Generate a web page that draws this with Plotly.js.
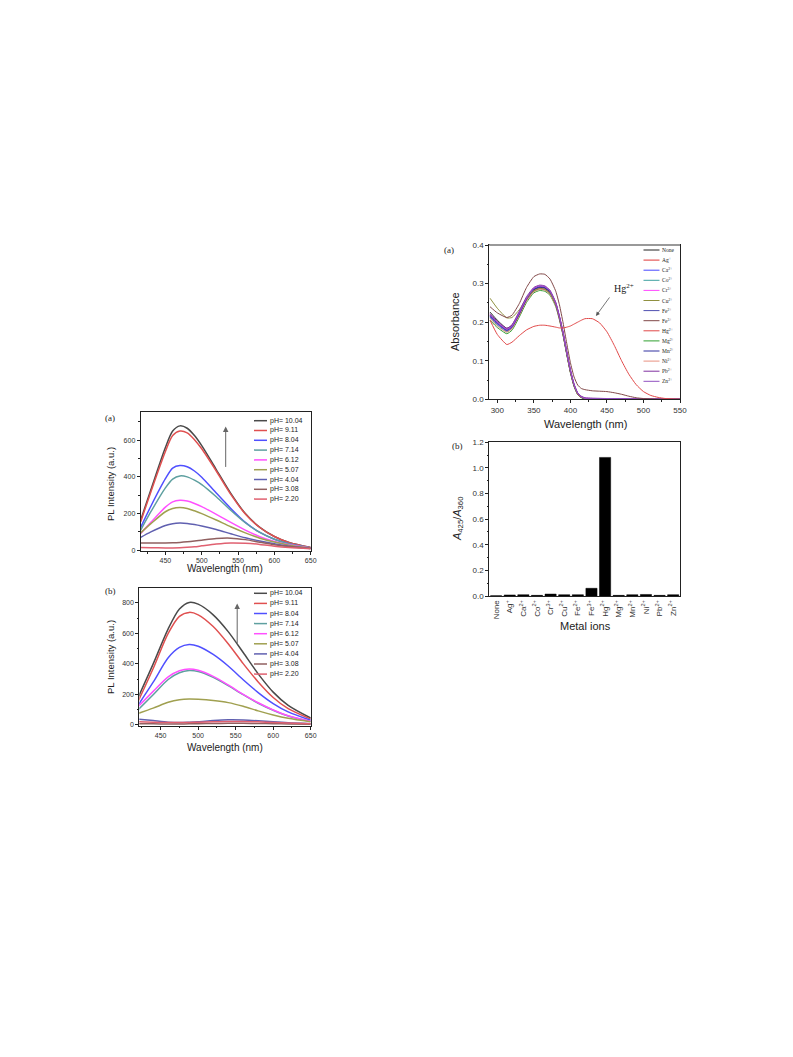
<!DOCTYPE html>
<html>
<head>
<meta charset="utf-8">
<script src="https://cdn.plot.ly/plotly-3.0.1.min.js"></script>
<style>html,body{margin:0;padding:0;background:#fff;}#chart{width:793px;height:1057px;}</style>
</head>
<body>
<div id="chart"></div>
<script>
// ---------- DATA ----------
// PL spectra (a)
const plWlA = [416,430,450,460,470,480,490,500,520,540,560,580,600,620,650];
const plA_1004 = [165,330,560,650,678,665,625,570,440,310,200,125,75,42,15];
const plA_911  = [155,318,538,625,650,640,603,553,432,305,198,124,75,42,15];
const plA_804  = [125,240,390,448,462,455,432,398,312,228,152,97,60,35,12];
const plA_714  = [110,210,340,388,405,400,382,358,292,218,150,97,60,35,12];
const plA_612  = [92,152,235,264,272,268,255,238,196,152,110,74,48,30,12];
const plA_507  = [95,145,210,228,233,228,215,200,165,128,95,66,45,28,12];
const plA_404  = [70,100,135,145,148,146,140,132,113,90,68,50,35,22,10];
const plA_308  = [40,40,40,41,43,46,50,55,64,66,58,44,30,20,10];
const plA_220  = [15,14,13,13,14,16,19,24,34,40,38,32,22,15,8];
// PL spectra (b)
const plWlB = [420,440,460,475,488,500,520,540,560,580,600,620,650];
const plB_1004 = [180,400,630,760,803,792,722,612,475,335,215,128,45];
const plB_911  = [155,370,600,712,738,722,645,532,402,282,180,106,38];
const plB_804  = [130,280,440,508,527,516,462,386,296,212,140,85,30];
const plB_714  = [100,198,298,342,356,350,312,258,198,142,96,58,22];
const plB_612  = [120,220,315,355,367,358,318,262,200,145,98,60,24];
const plB_507  = [75,110,148,165,170,168,160,146,122,92,65,43,20];
const plB_404  = [38,28,18,15,17,20,28,33,32,27,20,14,8];
const plB_308  = [8,7,6,6,7,8,9,10,10,9,8,6,5];
const plB_220  = [20,17,15,15,16,18,21,23,22,20,16,12,8];
const pHLabels = ["pH= 10.04","pH= 9.11","pH= 8.04","pH= 7.14","pH= 6.12","pH= 5.07","pH= 4.04","pH= 3.08","pH= 2.20"];

// Absorbance spectra
const absWlS = [290,300,313,320,330,340,350,358,365,372,380,385,390,395,400,405,410,415,420,430,450,500,550];
const absWlL = [290,300,313,320,330,340,350,358,365,372,380,385,390,395,400,405,410,415,420,430,440,450,460,470,480,490,500,510,520,530,550];
const absNone = [0.226,0.205,0.184,0.192,0.225,0.262,0.285,0.291,0.289,0.278,0.247,0.212,0.170,0.120,0.073,0.036,0.014,0.005,0.002,0.001,0,0,0];
const absAg   = [0.218,0.197,0.178,0.186,0.220,0.258,0.282,0.288,0.286,0.276,0.245,0.210,0.168,0.118,0.071,0.035,0.013,0.005,0.002,0.001,0,0,0];
const absCa   = [0.215,0.196,0.179,0.188,0.223,0.261,0.286,0.292,0.290,0.279,0.248,0.213,0.171,0.121,0.074,0.037,0.015,0.006,0.002,0.001,0,0,0];
const absCo   = [0.212,0.192,0.175,0.184,0.218,0.256,0.280,0.286,0.284,0.273,0.243,0.208,0.166,0.117,0.070,0.034,0.013,0.005,0.002,0.001,0,0,0];
const absCr   = [0.220,0.200,0.182,0.190,0.225,0.263,0.288,0.294,0.292,0.281,0.250,0.215,0.173,0.123,0.076,0.039,0.016,0.007,0.003,0.002,0.001,0,0];
const absCu   = [0.262,0.236,0.211,0.212,0.232,0.262,0.281,0.287,0.285,0.275,0.245,0.210,0.168,0.118,0.071,0.035,0.013,0.005,0.002,0.001,0,0,0];
const absFe2  = [0.214,0.195,0.178,0.187,0.221,0.259,0.284,0.290,0.288,0.277,0.246,0.211,0.169,0.119,0.072,0.036,0.014,0.005,0.002,0.001,0,0,0];
const absFe3  = [0.240,0.224,0.212,0.218,0.248,0.290,0.318,0.325,0.324,0.312,0.280,0.245,0.198,0.145,0.095,0.058,0.037,0.028,0.025,0.022,0.021,0.020,0.017,0.013,0.008,0.004,0.002,0.001,0,0,0];
const absHg   = [0.205,0.168,0.142,0.148,0.165,0.180,0.189,0.192,0.192,0.190,0.187,0.185,0.185,0.187,0.190,0.195,0.200,0.205,0.209,0.209,0.198,0.175,0.140,0.100,0.065,0.038,0.020,0.010,0.005,0.002,0];
const absMg   = [0.205,0.186,0.170,0.179,0.213,0.251,0.276,0.282,0.280,0.270,0.240,0.206,0.165,0.116,0.069,0.033,0.012,0.004,0.001,0,0,0,0];
const absMn   = [0.217,0.198,0.180,0.189,0.223,0.261,0.286,0.292,0.290,0.279,0.248,0.213,0.171,0.121,0.074,0.037,0.015,0.006,0.002,0.001,0,0,0];
const absNi   = [0.210,0.190,0.174,0.183,0.217,0.255,0.279,0.285,0.283,0.272,0.242,0.207,0.166,0.117,0.070,0.034,0.013,0.005,0.002,0.001,0,0,0];
const absPb   = [0.222,0.202,0.184,0.193,0.228,0.266,0.290,0.296,0.294,0.283,0.251,0.216,0.174,0.124,0.077,0.040,0.017,0.008,0.004,0.003,0.002,0.001,0];
const absZn   = [0.219,0.199,0.181,0.190,0.225,0.263,0.288,0.294,0.292,0.281,0.250,0.215,0.173,0.123,0.076,0.039,0.016,0.007,0.003,0.002,0.002,0.001,0];

// Ratio bar chart
const ionLabels = ["None","Ag<sup>+</sup>","Ca<sup>2+</sup>","Co<sup>2+</sup>","Cr<sup>3+</sup>","Cu<sup>2+</sup>","Fe<sup>2+</sup>","Fe<sup>3+</sup>","Hg<sup>2+</sup>","Mg<sup>2+</sup>","Mn<sup>2+</sup>","Ni<sup>2+</sup>","Pb<sup>2+</sup>","Zn<sup>2+</sup>"];
const ratioValues = [0.002,0.008,0.010,0.005,0.015,0.010,0.010,0.060,1.082,0.005,0.010,0.012,0.005,0.010];

// ---------- STYLE ----------
const W = 793, H = 1057;
const px = x => x / W, py = y => 1 - y / H;
const SANS = "Liberation Sans, Arial, sans-serif";
const SERIF = "Liberation Serif, Times New Roman, serif";
const plColors = ["#4a4a4a","#e05050","#5050ff","#5fa0a0","#ff50ff","#a0a050","#6060b0","#906060","#e06070"];
const ionColors = ["#222222","#e03838","#4848ff","#3fa0a0","#ff48ff","#909040","#5050b0","#804848","#e04848","#30a030","#3030a0","#e89080","#8030a0","#9050c0"];

const plASeries = [plA_1004,plA_911,plA_804,plA_714,plA_612,plA_507,plA_404,plA_308,plA_220];
const plBSeries = [plB_1004,plB_911,plB_804,plB_714,plB_612,plB_507,plB_404,plB_308,plB_220];
const absSeries = [
  [absWlS,absNone],[absWlS,absAg],[absWlS,absCa],[absWlS,absCo],[absWlS,absCr],[absWlS,absCu],[absWlS,absFe2],
  [absWlL,absFe3],[absWlL,absHg],[absWlS,absMg],[absWlS,absMn],[absWlS,absNi],[absWlS,absPb],[absWlS,absZn]
];

const traces = [];
plASeries.forEach((y,i)=>traces.push({x:plWlA,y:y,xaxis:'x',yaxis:'y',type:'scatter',mode:'lines',
  line:{color:plColors[i],width:1.5,shape:'spline',smoothing:0.8},showlegend:false,hoverinfo:'skip'}));
plBSeries.forEach((y,i)=>traces.push({x:plWlB,y:y,xaxis:'x2',yaxis:'y2',type:'scatter',mode:'lines',
  line:{color:plColors[i],width:1.5,shape:'spline',smoothing:0.8},showlegend:false,hoverinfo:'skip'}));
// draw order: cluster first, Fe3 and Hg later
const absOrder = [9,3,11,1,6,0,2,10,5,4,12,13,7,8];
absOrder.forEach(i=>traces.push({x:absSeries[i][0],y:absSeries[i][1],xaxis:'x3',yaxis:'y3',type:'scatter',mode:'lines',
  line:{color:ionColors[i],width:1,shape:'spline',smoothing:0.5},showlegend:false,hoverinfo:'skip'}));
traces.push({x:ionLabels,y:ratioValues,xaxis:'x4',yaxis:'y4',type:'bar',width:0.82,
  marker:{color:'#000',line:{color:'#000',width:0.5}},showlegend:false,hoverinfo:'skip'});

function ax(extra){
  return Object.assign({showline:true,linecolor:'#222',linewidth:1,mirror:true,ticks:'outside',ticklen:3,tickwidth:1,
    tickcolor:'#222',showgrid:false,zeroline:false,tickfont:{family:SANS,size:7,color:'#333'}},extra);
}

const annotations = [];
const shapes = [];
function txt(x,y,t,size,font,opts){
  annotations.push(Object.assign({xref:'paper',yref:'paper',x:px(x),y:py(y),text:t,showarrow:false,
    font:{family:font||SANS,size:size,color:'#222'},xanchor:'center',yanchor:'middle'},opts||{}));
}
// axis titles
txt(110,484,"PL Intensity (a.u.)",9.5,SANS,{textangle:-90});
txt(225,568,"Wavelength (nm)",10,SANS);
txt(110,657,"PL Intensity (a.u.)",9.5,SANS,{textangle:-90});
txt(225,747,"Wavelength (nm)",10,SANS);
txt(455,322,"Absorbance",11,SANS,{textangle:-90});
txt(585,424,"Wavelength (nm)",11,SANS);
txt(458,519,"<i>A</i><sub>425</sub>/<i>A</i><sub>360</sub>",11,SANS,{textangle:-90});
txt(585,626,"Metal ions",11,SANS);
// panel labels
txt(110,418,"(a)",9,SERIF);
txt(110,591,"(b)",9,SERIF);
txt(449,250,"(a)",9,SERIF);
txt(457,446,"(b)",9,SERIF);
// Hg annotation
txt(624,288,"Hg<sup>2+</sup>",10,SERIF);
annotations.push({xref:'x3',yref:'y3',axref:'x3',ayref:'y3',x:435,y:0.216,ax:455,ay:0.268,text:'',showarrow:true,
  arrowhead:2,arrowsize:1,arrowwidth:0.8,arrowcolor:'#555'});
// pH arrows
annotations.push({xref:'x',yref:'y',axref:'x',ayref:'y',x:533,y:674,ax:533,ay:446,text:'',showarrow:true,
  arrowhead:2,arrowsize:1.1,arrowwidth:1,arrowcolor:'#666'});
annotations.push({xref:'x2',yref:'y2',axref:'x2',ayref:'y2',x:552,y:796,ax:552,ay:527,text:'',showarrow:true,
  arrowhead:2,arrowsize:1.1,arrowwidth:1,arrowcolor:'#666'});

// manual legends
function legend(labels,colors,x0,x1,xt,y0,dy,size,font,lw){
  labels.forEach((l,i)=>{
    const y = y0 + i*dy;
    shapes.push({type:'line',xref:'paper',yref:'paper',x0:px(x0),x1:px(x1),y0:py(y),y1:py(y),line:{color:colors[i],width:lw}});
    txt(xt,y,l,size,font,{xanchor:'left'});
  });
}
legend(pHLabels,plColors,254,267,268,420.7,9.8,7,SANS,1.5);
legend(pHLabels,plColors,254,267,268,593.3,10.1,7,SANS,1.5);
const legIons = ["None","Ag<sup>+</sup>","Ca<sup>2+</sup>","Co<sup>2+</sup>","Cr<sup>3+</sup>","Cu<sup>2+</sup>","Fe<sup>2+</sup>","Fe<sup>3+</sup>","Hg<sup>2+</sup>","Mg<sup>2+</sup>","Mn<sup>2+</sup>","Ni<sup>2+</sup>","Pb<sup>2+</sup>","Zn<sup>2+</sup>"];
legend(legIons,ionColors,643.5,659.5,659.5,250,10.1,5.5,SERIF,1);
// thick grey top frame of absorbance panel
shapes.push({type:'line',xref:'paper',yref:'paper',x0:px(489.3),x1:px(680),y0:py(245),y1:py(245),line:{color:'#999',width:2}});

const layout = {
  width:W,height:H,margin:{l:0,r:0,t:0,b:0},paper_bgcolor:'#fff',plot_bgcolor:'#fff',showlegend:false,
  xaxis: ax({domain:[px(140.7),px(310.7)],anchor:'y',range:[416,650],tickvals:[450,500,550,600,650],minor:{ticks:'outside',ticklen:1.5,tickvals:[425,475,525,575,625],tickcolor:'#222'}}),
  yaxis: ax({domain:[py(551),py(412.3)],anchor:'x',range:[-4,752],tickvals:[0,200,400,600],minor:{ticks:'outside',ticklen:1.5,tickvals:[100,300,500,700],tickcolor:'#222'}}),
  xaxis2: ax({domain:[px(139.3),px(310.7)],anchor:'y2',range:[421.5,650],tickvals:[450,500,550,600,650],minor:{ticks:'outside',ticklen:1.5,tickvals:[425,475,525,575,625],tickcolor:'#222'}}),
  yaxis2: ax({domain:[py(725.5),py(587.7)],anchor:'x2',range:[-4,900],tickvals:[0,200,400,600,800],minor:{ticks:'outside',ticklen:1.5,tickvals:[100,300,500,700],tickcolor:'#222'}}),
  xaxis3: ax({domain:[px(489.3),px(680)],anchor:'y3',range:[289,550],tickvals:[300,350,400,450,500,550],tickfont:{family:SANS,size:8,color:'#333'},minor:{ticks:'outside',ticklen:1.5,tickvals:[325,375,425,475,525],tickcolor:'#222'}}),
  yaxis3: ax({domain:[py(399.3),py(245)],anchor:'x3',range:[0,0.4],tickvals:[0,0.1,0.2,0.3,0.4],tickformat:'.1f',tickfont:{family:SANS,size:8,color:'#333'},minor:{ticks:'outside',ticklen:1.5,tickvals:[0.05,0.15,0.25,0.35],tickcolor:'#222'}}),
  xaxis4: ax({domain:[px(489.3),px(680)],anchor:'y4',type:'category',range:[-0.5,13.5],ticks:'',tickangle:-90,tickfont:{family:SANS,size:8,color:'#333'}}),
  yaxis4: ax({domain:[py(596),py(442.3)],anchor:'x4',range:[0,1.2],tickvals:[0,0.2,0.4,0.6,0.8,1.0,1.2],tickformat:'.1f',tickfont:{family:SANS,size:8,color:'#333'},minor:{ticks:'outside',ticklen:1.5,tickvals:[0.1,0.3,0.5,0.7,0.9,1.1],tickcolor:'#222'}}),
  annotations:annotations,
  shapes:shapes
};
Plotly.newPlot('chart',traces,layout,{staticPlot:true,displayModeBar:false});
</script>
</body>
</html>
